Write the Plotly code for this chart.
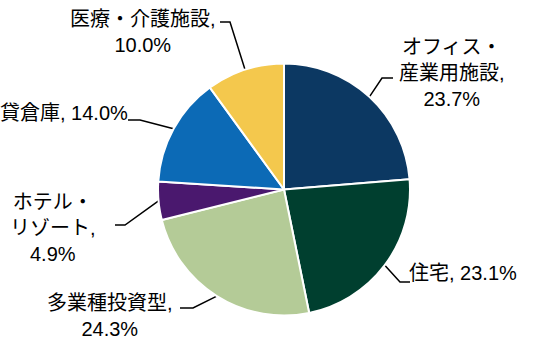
import math
import plotly.graph_objects as go

labels = ["オフィス・産業用施設", "住宅", "多業種投資型", "ホテル・リゾート", "貸倉庫", "医療・介護施設"]
values = [23.7, 23.1, 24.3, 4.9, 14.0, 10.0]
colors = ["#0c3862", "#003f2f", "#b4cb97", "#4a186e", "#0c6ab6", "#f4c84d"]
label_texts = ["オフィス・<br>産業用施設,<br>23.7%", "住宅, 23.1%", "多業種投資型,<br>24.3%",
               "ホテル・<br>リゾート,<br>4.9%", "貸倉庫, 14.0%", "医療・介護施設,<br>10.0%"]

W, H = 544, 346
cx, cy, R = 284, 189.5, 126

# label centre positions (pixels) and leader elbow/end points (pixels)
label_pos = [(452, 73), (463, 273), (110, 316), (53, 228), (64, 113), (143, 32)]
elbows = [((382, 78), (393, 78)), ((400, 282), (410, 282)), ((193, 308), (180, 308)),
          ((125, 225), (115, 225)), ((140, 120), (128, 120)), ((230, 22), (220, 22))]

font_family = "Liberation Sans Narrow, Arial Narrow, Liberation Sans, Noto Sans CJK JP, sans-serif"

fig = go.Figure()
fig.add_trace(go.Pie(
    labels=labels, values=values, sort=False, direction="clockwise", rotation=0,
    marker=dict(colors=colors, line=dict(color="white", width=2)),
    textinfo="none", hoverinfo="label+percent", showlegend=False,
    domain=dict(x=[(cx - R) / W, (cx + R) / W], y=[(H - cy - R) / H, (H - cy + R) / H]),
))

total = sum(values)
cum = 0
for i, v in enumerate(values):
    mid = (cum + v / 2) / total * 2 * math.pi
    cum += v
    ex = cx + R * math.sin(mid)
    ey = cy - R * math.cos(mid)
    (bx, by), (tx, ty) = elbows[i]
    fig.add_trace(go.Scatter(x=[ex, bx, tx], y=[ey, by, ty], mode="lines",
                             line=dict(color="black", width=1.5), hoverinfo="skip", showlegend=False))
    lx, ly = label_pos[i]
    fig.add_annotation(x=lx, y=ly, xref="x", yref="y", text=label_texts[i], showarrow=False,
                       xanchor="center", yanchor="middle", align="center",
                       font=dict(family=font_family, size=20, color="black"))

fig.update_layout(
    width=W, height=H, margin=dict(l=0, r=0, t=0, b=0),
    paper_bgcolor="white", plot_bgcolor="rgba(0,0,0,0)",
    xaxis=dict(range=[0, W], visible=False, fixedrange=True),
    yaxis=dict(range=[H, 0], visible=False, fixedrange=True),
)
fig.write_html("out.html")
